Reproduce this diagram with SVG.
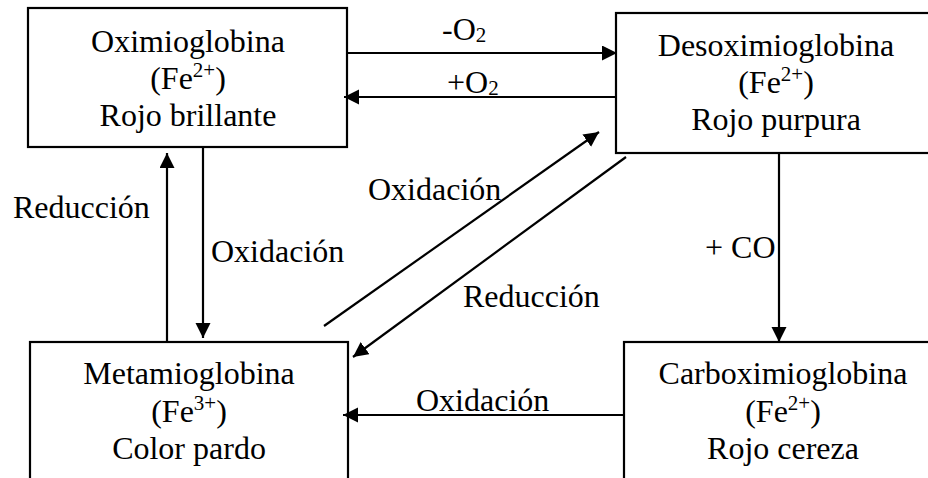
<svg xmlns="http://www.w3.org/2000/svg" width="928" height="478" viewBox="0 0 928 478">
<defs>
<marker id="ah" markerUnits="userSpaceOnUse" markerWidth="16" markerHeight="16" refX="15" refY="7.5" orient="auto">
<path d="M0,0 L15,7.5 L0,15 z" fill="#000"/>
</marker>
<style>
.box{fill:#fff;stroke:#000;stroke-width:2.2}
.ln{stroke:#000;stroke-width:2.2;fill:none;marker-end:url(#ah)}
</style>
</defs>
<rect width="928" height="478" fill="#fff"/>
<g font-family="Liberation Serif, Times New Roman, DejaVu Serif, serif" font-size="32" fill="#000">
<g id="oximioglobina">
<rect class="box" x="28" y="8" width="319" height="139"/>
<text text-anchor="middle" x="188" y="52">Oximioglobina</text>
<text text-anchor="middle" x="188" y="89">(Fe<tspan font-size="21" dy="-12">2+</tspan><tspan dy="12">)</tspan></text>
<text text-anchor="middle" x="188" y="126">Rojo brillante</text>
</g>
<g id="desoximioglobina">
<rect class="box" x="616" y="13" width="322" height="140"/>
<text text-anchor="middle" x="776" y="56">Desoximioglobina</text>
<text text-anchor="middle" x="776" y="93">(Fe<tspan font-size="21" dy="-12">2+</tspan><tspan dy="12">)</tspan></text>
<text text-anchor="middle" x="776" y="130">Rojo purpura</text>
</g>
<g id="metamioglobina">
<rect class="box" x="30" y="342" width="318" height="150"/>
<text text-anchor="middle" x="189" y="384">Metamioglobina</text>
<text text-anchor="middle" x="189" y="422">(Fe<tspan font-size="21" dy="-12">3+</tspan><tspan dy="12">)</tspan></text>
<text text-anchor="middle" x="189" y="459">Color pardo</text>
</g>
<g id="carboximioglobina">
<rect class="box" x="624" y="342" width="320" height="150"/>
<text text-anchor="middle" x="783" y="384">Carboximioglobina</text>
<text text-anchor="middle" x="783" y="422">(Fe<tspan font-size="21" dy="-12">2+</tspan><tspan dy="12">)</tspan></text>
<text text-anchor="middle" x="783" y="459">Rojo cereza</text>
</g>
<g id="connectors">
<line class="ln" x1="347" y1="53" x2="617" y2="53"/>
<line class="ln" x1="616" y1="97" x2="344" y2="97"/>
<line class="ln" x1="167" y1="342" x2="167" y2="153"/>
<line class="ln" x1="203" y1="147" x2="203" y2="338"/>
<line class="ln" x1="779" y1="153" x2="779" y2="342"/>
<line class="ln" x1="625" y1="415" x2="343" y2="415"/>
<line class="ln" x1="324" y1="326" x2="599" y2="132"/>
<line class="ln" x1="626" y1="157" x2="353" y2="357"/>
</g>
<g id="labels">
<text x="442" y="40">-O<tspan font-size="21" dy="2">2</tspan></text>
<text x="447" y="93">+O<tspan font-size="21" dy="2">2</tspan></text>
<text x="13" y="218">Reducción</text>
<text x="211" y="262">Oxidación</text>
<text x="368" y="200">Oxidación</text>
<text x="463" y="307">Reducción</text>
<text x="705" y="258">+ CO</text>
<text x="416" y="411">Oxidación</text>
</g>
</g>
</svg>
